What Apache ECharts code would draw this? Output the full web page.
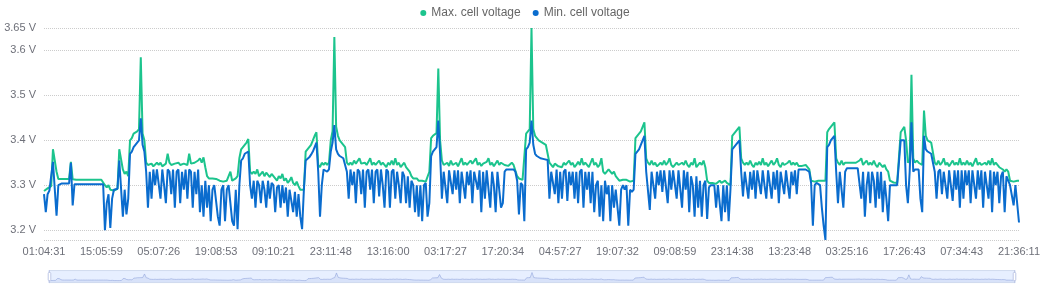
<!DOCTYPE html>
<html>
<head>
<meta charset="utf-8">
<script src="https://cdn.jsdelivr.net/npm/echarts@6.0.0/dist/echarts.min.js"></script>
<style>
html,body{margin:0;padding:0;background:#fff;}
#main{width:1050px;height:284px;}
</style>
</head>
<body>
<div id="main"></div>
<script>
// Tick labels shown on the x axis (one every 32 samples)
const tickLabels = ['01:04:31','15:05:59','05:07:26','19:08:53','09:10:21','23:11:48','13:16:00','03:17:27','17:20:34','04:57:27','19:07:32','09:08:59','23:14:38','13:23:48','03:25:16','17:26:43','07:34:43','21:36:11'];
const samplesPerTick = 32;

const seriesNames = ['Max. cell voltage', 'Min. cell voltage'];

// Max. cell voltage (V), 32 samples per labelled tick
const maxVoltage = [
  3.287,3.29,3.293,3.296,3.298,3.38,3.38,3.33,3.314,3.314,3.314,3.314,3.314,3.314,3.314,3.352,
  3.313,3.312,3.312,3.312,3.312,3.312,3.312,3.312,3.312,3.312,3.312,3.312,3.312,3.312,3.312,3.312,
  3.312,3.312,3.30,3.295,3.30,3.29,3.29,3.288,3.29,3.292,3.38,3.38,3.335,3.325,3.33,3.32,
  3.40,3.405,3.415,3.418,3.42,3.425,3.585,3.415,3.40,3.35,3.345,3.342,3.348,3.342,3.345,3.35,
  3.345,3.35,3.342,3.345,3.348,3.37,3.35,3.345,3.342,3.348,3.345,3.35,3.345,3.343,3.348,3.35,
  3.345,3.37,3.348,3.345,3.35,3.348,3.355,3.36,3.35,3.362,3.34,3.32,3.315,3.318,3.315,3.314,
  3.314,3.312,3.31,3.31,3.308,3.305,3.31,3.312,3.33,3.31,3.31,3.315,3.32,3.36,3.38,3.385,
  3.39,3.395,3.403,3.33,3.325,3.33,3.325,3.335,3.32,3.325,3.33,3.32,3.328,3.33,3.318,3.325,
  3.325,3.315,3.31,3.32,3.315,3.325,3.31,3.315,3.305,3.31,3.318,3.305,3.30,3.308,3.298,3.29,
  3.288,3.29,3.375,3.378,3.385,3.39,3.40,3.41,3.418,3.345,3.34,3.35,3.345,3.35,3.345,3.35,
  3.40,3.42,3.63,3.43,3.41,3.40,3.395,3.39,3.385,3.35,3.345,3.35,3.345,3.355,3.348,3.345,
  3.36,3.348,3.345,3.35,3.345,3.352,3.36,3.345,3.35,3.345,3.348,3.355,3.345,3.35,3.345,3.34,
  3.35,3.345,3.355,3.345,3.36,3.345,3.35,3.34,3.345,3.35,3.34,3.335,3.33,3.32,3.315,3.312,
  3.315,3.31,3.312,3.31,3.31,3.308,3.305,3.33,3.405,3.41,3.414,3.416,3.56,3.40,3.355,3.345,
  3.345,3.35,3.343,3.355,3.345,3.348,3.35,3.342,3.345,3.36,3.345,3.35,3.345,3.342,3.355,3.348,
  3.345,3.36,3.345,3.35,3.343,3.348,3.345,3.352,3.36,3.345,3.35,3.342,3.345,3.355,3.345,3.35,
  3.35,3.345,3.345,3.343,3.345,3.35,3.345,3.345,3.32,3.315,3.314,3.312,3.31,3.415,3.418,3.425,
  3.65,3.425,3.41,3.405,3.40,3.397,3.395,3.392,3.39,3.388,3.35,3.345,3.34,3.348,3.345,3.342,
  3.345,3.34,3.35,3.345,3.342,3.355,3.345,3.35,3.34,3.345,3.352,3.345,3.36,3.345,3.35,3.345,
  3.34,3.35,3.36,3.345,3.35,3.34,3.345,3.36,3.33,3.325,3.33,3.335,3.33,3.325,3.33,3.32,
  3.315,3.31,3.31,3.312,3.31,3.312,3.31,3.308,3.31,3.31,3.405,3.41,3.415,3.42,3.43,3.44,
  3.36,3.35,3.345,3.355,3.345,3.35,3.342,3.345,3.35,3.345,3.355,3.345,3.35,3.36,3.345,3.34,
  3.345,3.35,3.345,3.342,3.35,3.345,3.355,3.345,3.34,3.35,3.345,3.36,3.34,3.345,3.35,3.345,
  3.355,3.34,3.31,3.305,3.308,3.305,3.305,3.303,3.305,3.31,3.305,3.305,3.31,3.305,3.302,3.30,
  3.41,3.415,3.42,3.425,3.43,3.36,3.35,3.345,3.35,3.345,3.355,3.345,3.34,3.35,3.345,3.352,
  3.345,3.36,3.345,3.35,3.342,3.345,3.355,3.345,3.35,3.36,3.345,3.34,3.35,3.345,3.342,3.35,
  3.355,3.345,3.35,3.345,3.35,3.343,3.343,3.343,3.343,3.345,3.345,3.335,3.31,3.31,3.308,3.31,
  3.31,3.31,3.31,3.308,3.31,3.418,3.425,3.43,3.435,3.44,3.36,3.35,3.345,3.355,3.345,3.35,
  3.35,3.35,3.35,3.35,3.35,3.35,3.352,3.355,3.36,3.345,3.35,3.355,3.345,3.35,3.345,3.355,
  3.345,3.34,3.35,3.345,3.34,3.345,3.335,3.33,3.31,3.306,3.306,3.306,3.305,3.308,3.418,3.42,
  3.43,3.40,3.35,3.355,3.546,3.36,3.35,3.355,3.35,3.35,3.345,3.466,3.41,3.40,3.398,3.395,
  3.392,3.35,3.345,3.355,3.345,3.35,3.36,3.345,3.35,3.342,3.345,3.355,3.345,3.35,3.345,3.36,
  3.345,3.35,3.345,3.355,3.345,3.35,3.342,3.345,3.36,3.345,3.35,3.345,3.342,3.35,3.345,3.355,
  3.345,3.36,3.345,3.35,3.345,3.34,3.338,3.335,3.33,3.335,3.33,3.31,3.31,3.308,3.305,3.31,
  3.31
];

// Min. cell voltage (V), 32 samples per labelled tick
const minVoltage = [
  3.28,3.24,3.28,3.288,3.29,3.352,3.35,3.232,3.30,3.304,3.304,3.304,3.304,3.304,3.304,3.35,
  3.255,3.302,3.302,3.302,3.302,3.302,3.302,3.302,3.302,3.302,3.302,3.302,3.302,3.302,3.302,3.302,
  3.302,3.302,3.20,3.26,3.28,3.205,3.27,3.29,3.29,3.292,3.355,3.355,3.23,3.29,3.235,3.27,
  3.37,3.375,3.385,3.39,3.392,3.40,3.449,3.39,3.375,3.33,3.25,3.33,3.27,3.335,3.30,3.335,
  3.335,3.27,3.335,3.30,3.26,3.335,3.33,3.28,3.335,3.25,3.33,3.335,3.26,3.33,3.29,3.335,
  3.27,3.335,3.33,3.25,3.33,3.28,3.335,3.24,3.30,3.23,3.31,3.25,3.30,3.22,3.29,3.30,
  3.30,3.23,3.21,3.29,3.30,3.22,3.29,3.30,3.30,3.22,3.21,3.29,3.202,3.30,3.355,3.36,
  3.37,3.372,3.375,3.30,3.27,3.31,3.25,3.31,3.30,3.26,3.31,3.29,3.25,3.31,3.27,3.305,
  3.30,3.24,3.295,3.30,3.25,3.30,3.26,3.295,3.23,3.29,3.29,3.24,3.285,3.23,3.28,3.23,
  3.202,3.29,3.355,3.358,3.362,3.368,3.375,3.385,3.395,3.33,3.23,3.30,3.335,3.335,3.33,3.335,
  3.375,3.395,3.434,3.38,3.37,3.365,3.362,3.36,3.358,3.33,3.27,3.335,3.30,3.33,3.26,3.335,
  3.33,3.28,3.335,3.25,3.33,3.335,3.29,3.335,3.26,3.33,3.335,3.275,3.335,3.30,3.25,3.335,
  3.33,3.25,3.33,3.335,3.27,3.33,3.30,3.26,3.33,3.32,3.26,3.32,3.25,3.31,3.30,3.24,
  3.30,3.23,3.30,3.22,3.30,3.305,3.23,3.26,3.365,3.375,3.38,3.385,3.444,3.37,3.27,3.33,
  3.333,3.26,3.333,3.33,3.28,3.333,3.29,3.333,3.26,3.33,3.333,3.27,3.33,3.30,3.333,3.26,
  3.33,3.333,3.29,3.333,3.24,3.33,3.27,3.333,3.333,3.25,3.33,3.30,3.24,3.33,3.333,3.25,
  3.26,3.33,3.335,3.335,3.335,3.335,3.335,3.33,3.31,3.235,3.305,3.30,3.22,3.38,3.385,3.395,
  3.444,3.39,3.37,3.365,3.362,3.36,3.36,3.358,3.358,3.356,3.27,3.33,3.33,3.28,3.335,3.26,
  3.33,3.27,3.33,3.335,3.265,3.33,3.30,3.33,3.27,3.33,3.26,3.33,3.335,3.25,3.33,3.29,
  3.33,3.26,3.33,3.24,3.30,3.31,3.23,3.30,3.22,3.31,3.28,3.30,3.22,3.30,3.25,3.29,
  3.29,3.21,3.29,3.30,3.29,3.30,3.21,3.29,3.285,3.29,3.37,3.375,3.38,3.39,3.40,3.41,
  3.33,3.33,3.245,3.33,3.333,3.27,3.33,3.30,3.333,3.285,3.333,3.33,3.26,3.333,3.29,3.333,
  3.333,3.27,3.333,3.33,3.25,3.333,3.29,3.33,3.24,3.32,3.30,3.23,3.32,3.25,3.31,3.23,
  3.30,3.31,3.225,3.295,3.30,3.30,3.30,3.25,3.30,3.30,3.22,3.30,3.24,3.30,3.22,3.29,
  3.38,3.385,3.39,3.395,3.40,3.33,3.275,3.33,3.333,3.27,3.33,3.29,3.333,3.27,3.333,3.333,
  3.28,3.333,3.30,3.27,3.333,3.333,3.27,3.33,3.29,3.333,3.26,3.33,3.333,3.28,3.333,3.30,
  3.27,3.33,3.30,3.333,3.28,3.335,3.335,3.335,3.335,3.335,3.335,3.33,3.305,3.21,3.30,3.305,
  3.305,3.30,3.25,3.21,3.178,3.385,3.39,3.40,3.405,3.41,3.33,3.26,3.33,3.333,3.25,3.33,
  3.338,3.338,3.338,3.338,3.338,3.338,3.338,3.338,3.27,3.33,3.23,3.30,3.33,3.26,3.33,3.31,
  3.25,3.33,3.27,3.33,3.24,3.31,3.27,3.22,3.30,3.30,3.30,3.30,3.30,3.30,3.40,3.40,
  3.40,3.30,3.26,3.33,3.44,3.33,3.335,3.335,3.335,3.27,3.24,3.41,3.38,3.375,3.372,3.37,
  3.37,3.33,3.27,3.33,3.335,3.28,3.33,3.30,3.27,3.333,3.33,3.265,3.333,3.29,3.333,3.25,
  3.333,3.27,3.333,3.30,3.333,3.26,3.333,3.33,3.27,3.333,3.29,3.333,3.25,3.33,3.333,3.27,
  3.333,3.24,3.33,3.30,3.33,3.26,3.32,3.33,3.24,3.32,3.31,3.30,3.30,3.255,3.30,3.30,
  3.217
];

// Sample timestamps: the labelled ticks, with the samples between them spread evenly in time
function toSec(s){ const p = s.split(':').map(Number); return p[0]*3600 + p[1]*60 + p[2]; }
function pad(n){ return (n < 10 ? '0' : '') + n; }
function fmt(sec){ sec = Math.round(sec) % 86400; return pad(Math.floor(sec/3600)) + ':' + pad(Math.floor(sec%3600/60)) + ':' + pad(sec%60); }
const categories = [];
for (let k = 0; k < tickLabels.length - 1; k++) {
  const t0 = toSec(tickLabels[k]);
  const d = (toSec(tickLabels[k+1]) - t0 + 86400) % 86400;
  categories.push(tickLabels[k]);
  for (let j = 1; j < samplesPerTick; j++) categories.push(fmt(t0 + d * j / samplesPerTick));
}
categories.push(tickLabels[tickLabels.length - 1]);

const chart = echarts.init(document.getElementById('main'));
chart.setOption({
  animation: false,
  color: ['#1cc48d', '#0a6cce'],
  textStyle: { fontFamily: 'Liberation Sans, Arial, sans-serif' },
  legend: {
    top: 2, left: 'center', icon: 'circle', itemWidth: 6, itemHeight: 6, itemGap: 12,
    textStyle: { fontSize: 12, color: '#666' },
    data: seriesNames
  },
  grid: { left: 44, right: 31, top: 28, bottom: 44 },
  xAxis: {
    type: 'category', boundaryGap: false, data: categories,
    axisLine: { show: false }, axisTick: { show: false }, splitLine: { show: false },
    axisLabel: { interval: samplesPerTick - 1, fontSize: 11, color: '#6e7079', margin: 6 }
  },
  yAxis: {
    type: 'value', min: 3.178, max: 3.65,
    axisLine: { show: false }, axisTick: { show: false },
    axisLabel: { formatter: '{value} V', showMinLabel: false, fontSize: 11, color: '#6e7079' },
    splitLine: { lineStyle: { type: 'dotted', color: '#cccccc' } }
  },
  dataZoom: [{
    type: 'slider', left: 46, right: 37, bottom: 1, height: 13, start: 0, end: 100,
    brushSelect: false, showDetail: false,
    borderColor: '#d2dbee',
    fillerColor: 'rgba(135,175,274,0.2)',
    dataBackground: { lineStyle: { color: '#b7c6ea', width: 0.8 }, areaStyle: { color: '#dfe7f8', opacity: 0.4 } }
  }],
  series: [
    { name: seriesNames[0], type: 'line', data: maxVoltage, showSymbol: false, lineStyle: { width: 2 } },
    { name: seriesNames[1], type: 'line', data: minVoltage, showSymbol: false, lineStyle: { width: 2 } }
  ]
});
</script>
</body>
</html>
